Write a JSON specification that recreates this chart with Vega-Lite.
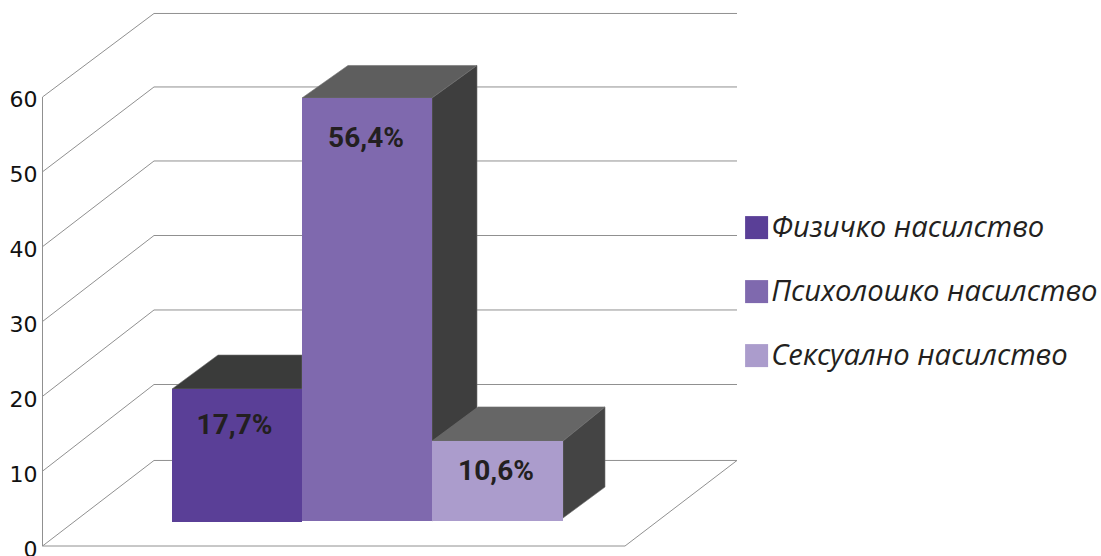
{"$schema":"https://vega.github.io/schema/vega-lite/v6.json","width":1059,"height":556,"autosize":{"type":"none"},"padding":{"left":42,"right":0,"top":0,"bottom":0},"background":"white","config":{"view":{"stroke":null}},
"layer":[
{"data":{"values":[
{"line":"axis","seq":0,"x":0.005,"y":0},{"line":"axis","seq":1,"x":0.005,"y":60},
{"line":"g0","seq":0,"x":0.005,"y":0},{"line":"g0","seq":1,"x":1.12,"y":11.43},{"line":"g0","seq":2,"x":6.95,"y":11.43},{"line":"g0","seq":3,"x":5.83,"y":0},{"line":"g0","seq":4,"x":0.005,"y":0},
{"line":"g10","seq":0,"x":0.005,"y":10},{"line":"g10","seq":1,"x":1.12,"y":21.58},{"line":"g10","seq":2,"x":6.95,"y":21.58},
{"line":"g20","seq":0,"x":0.005,"y":20},{"line":"g20","seq":1,"x":1.12,"y":31.54},{"line":"g20","seq":2,"x":6.95,"y":31.54},
{"line":"g30","seq":0,"x":0.005,"y":30},{"line":"g30","seq":1,"x":1.12,"y":41.49},{"line":"g30","seq":2,"x":6.95,"y":41.49},
{"line":"g40","seq":0,"x":0.005,"y":40},{"line":"g40","seq":1,"x":1.12,"y":51.45},{"line":"g40","seq":2,"x":6.95,"y":51.45},
{"line":"g50","seq":0,"x":0.005,"y":50},{"line":"g50","seq":1,"x":1.12,"y":61.34},{"line":"g50","seq":2,"x":6.95,"y":61.34},
{"line":"g60","seq":0,"x":0.005,"y":60},{"line":"g60","seq":1,"x":1.12,"y":71.16},{"line":"g60","seq":2,"x":6.95,"y":71.16}
]},
"mark":{"type":"line","color":"#909090","strokeWidth":1,"clip":false},
"encoding":{
"x":{"field":"x","type":"quantitative","scale":{"domain":[0,10.59],"nice":false,"zero":false},"axis":null},
"y":{"field":"y","type":"quantitative","scale":{"domain":[-1.336,72.96],"nice":false,"zero":false},"axis":{"title":null,"values":[0,10,20,30,40,50,60],"grid":false,"ticks":false,"domain":false,"labelFont":"DejaVu Sans","labelFontSize":22,"labelColor":"#111111","labelPadding":5,"labelOffset":3,"labelBaseline":"middle","labelOverlap":false,"labelBound":false,"labelFlush":false}},
"detail":{"field":"line"},"order":{"field":"seq"}}},
{"data":{"values":[
{"face":"top1","x":1.30,"y":20.98,"y2":20.98},{"face":"top1","x":1.76,"y":25.52,"y2":20.98},{"face":"top1","x":2.60,"y":25.52,"y2":20.98},
{"face":"top2","x":2.60,"y":59.87,"y2":59.87},{"face":"top2","x":3.06,"y":64.21,"y2":59.87},{"face":"top2","x":3.90,"y":64.21,"y2":59.87},{"face":"top2","x":4.35,"y":64.21,"y2":64.21},
{"face":"side2","x":3.90,"y":59.87,"y2":3.34},{"face":"side2","x":4.35,"y":64.21,"y2":7.7},
{"face":"top3","x":3.90,"y":14.03,"y2":14.03},{"face":"top3","x":4.36,"y":18.58,"y2":14.03},{"face":"top3","x":5.21,"y":18.58,"y2":14.03},{"face":"top3","x":5.63,"y":18.58,"y2":18.58},
{"face":"side3","x":5.21,"y":14.03,"y2":3.74},{"face":"side3","x":5.63,"y":18.58,"y2":7.88}
]},
"mark":{"type":"area","stroke":"#707070","strokeWidth":0.6,"clip":false},
"encoding":{
"x":{"field":"x","type":"quantitative"},
"y":{"field":"y","type":"quantitative"},
"y2":{"field":"y2"},
"detail":{"field":"face"},
"fill":{"field":"face","type":"nominal","legend":null,"scale":{"domain":["top1","top2","side2","top3","side3"],"range":["#3a3b3a","#5e5e5e","#3e3e3e","#666666","#444444"]}}}},
{"data":{"values":[
{"series":"Физичко насилство","value":17.7,"label":"17,7%","x":1.30,"x2":2.60,"y":20.98,"y2":3.21,"lx":1.925,"ly":16.04},
{"series":"Психолошко насилство","value":56.4,"label":"56,4%","x":2.60,"x2":3.90,"y":59.87,"y2":3.34,"lx":3.24,"ly":54.4},
{"series":"Сексуално насилство","value":10.6,"label":"10,6%","x":3.90,"x2":5.21,"y":14.03,"y2":3.34,"lx":4.54,"ly":9.89}
]},
"layer":[
{"mark":{"type":"rect","clip":false},
"encoding":{
"x":{"field":"x","type":"quantitative"},"x2":{"field":"x2"},
"y":{"field":"y","type":"quantitative"},"y2":{"field":"y2"},
"fill":{"field":"series","type":"nominal","sort":null,"scale":{"domain":["Физичко насилство","Психолошко насилство","Сексуално насилство"],"range":["#5a3f97","#7f69ae","#ab9ccc"]},
"legend":{"title":null,"orient":"none","legendX":700,"legendY":213,"symbolType":"square","symbolSize":529,"symbolStrokeWidth":0,"labelFont":"Open Sans","labelFontStyle":"italic","labelFontSize":29.2,"labelColor":"#231f20","labelOffset":0,"rowPadding":34,"labelLimit":400,"padding":0}}}},
{"mark":{"type":"text","font":"Roboto","fontWeight":"bold","fontSize":28,"color":"#231f20","align":"center","baseline":"middle","clip":false},
"encoding":{
"x":{"field":"lx","type":"quantitative"},
"y":{"field":"ly","type":"quantitative"},
"text":{"field":"label"}}}
]}
],
"resolve":{"scale":{"fill":"independent"}}}
